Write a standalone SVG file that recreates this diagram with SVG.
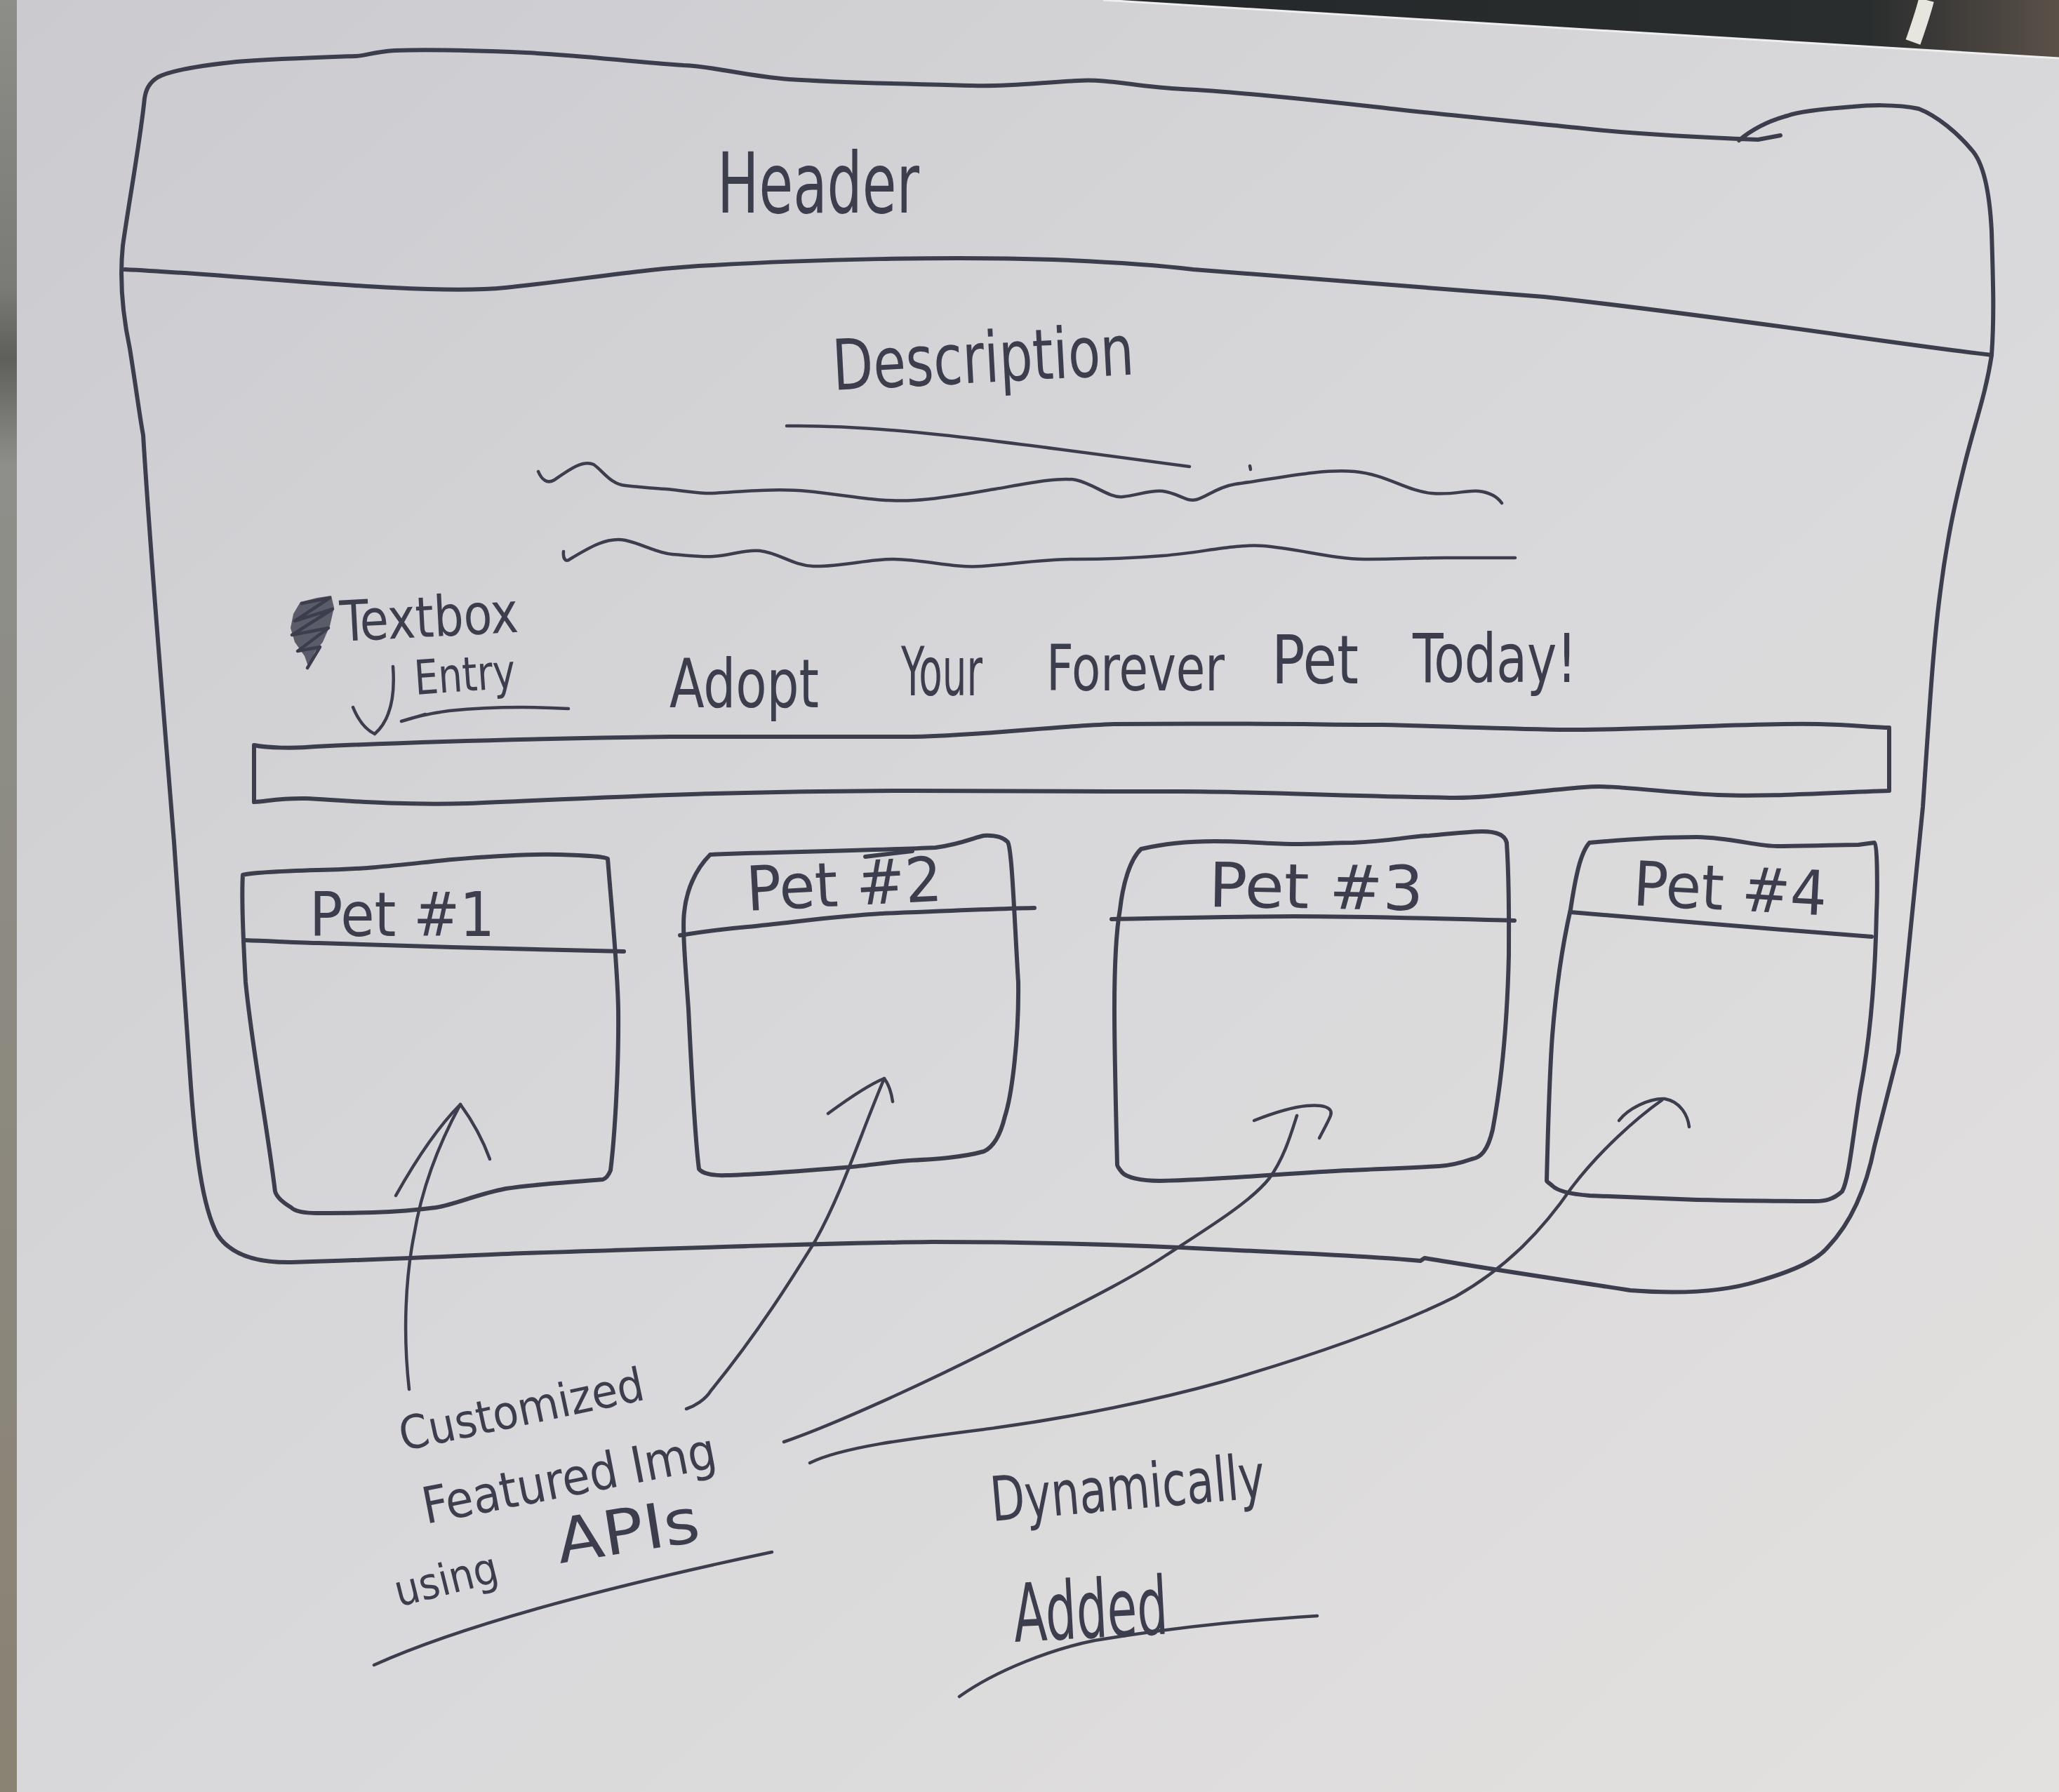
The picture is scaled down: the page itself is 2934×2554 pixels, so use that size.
<svg xmlns="http://www.w3.org/2000/svg" width="2934" height="2554" viewBox="0 0 2934 2554">
  <defs>
    <linearGradient id="paper" x1="0" y1="0" x2="1" y2="1">
      <stop offset="0" stop-color="#cbcbcf"/>
      <stop offset="0.45" stop-color="#d7d6d9"/>
      <stop offset="1" stop-color="#e3e1df"/>
    </linearGradient>
    <linearGradient id="desk" x1="0" y1="0" x2="1" y2="0">
      <stop offset="0" stop-color="#24282a"/>
      <stop offset="0.8" stop-color="#2a2d2e"/>
      <stop offset="1" stop-color="#5a5048"/>
    </linearGradient>
    <linearGradient id="edge" x1="0" y1="0" x2="0" y2="1">
      <stop offset="0" stop-color="#8d8e88"/>
      <stop offset="0.16" stop-color="#7a7b76"/>
      <stop offset="0.2" stop-color="#5e5f5b"/>
      <stop offset="0.26" stop-color="#8e8f8a"/>
      <stop offset="1" stop-color="#8a8273"/>
    </linearGradient>
    <style>
      .ink { fill: none; stroke: #3c3e4d; stroke-width: 6; stroke-linecap: round; stroke-linejoin: round; }
      .fine { stroke-width: 4.5; }
      .hand { font-family: "DejaVu Sans Condensed", "Liberation Sans Narrow", "Liberation Sans", sans-serif; fill: #3c3e4d; }
    </style>
  </defs>

  <!-- sheet of paper on the desk -->
  <rect x="0" y="0" width="2934" height="2554" fill="url(#paper)"/>
  <path d="M1572,0 L2934,0 L2934,83 Z" fill="url(#desk)"/>
  <path d="M1572,0 L2934,83" stroke="#eeeeee" stroke-width="3" fill="none"/>
  <path d="M2745,0 C2740,20 2733,40 2726,60" stroke="#e6e6de" stroke-width="22" fill="none"/>
  <rect x="0" y="0" width="24" height="2554" fill="url(#edge)"/>

  <!-- page outline, header band and body -->
  <g id="page">
    <path class="ink" d="M2537,193 L2505,199 C2400,195 2300,188 2247,182 C2150,172 2050,163 1966,153 C1850,140 1750,130 1685,127 C1620,124 1580,112 1536,115 C1480,118 1430,124 1386,122 C1300,120 1200,118 1124,113 C1060,108 1020,95 974,93 C900,88 820,78 749,75 C680,72 620,70 562,72 C530,74 520,80 506,80 C450,82 390,84 337,88 C280,94 240,102 225,110 C212,118 208,128 206,140 C200,200 185,280 175,350 C170,400 175,450 185,497 C195,560 200,600 204,620 C215,800 232,1000 248,1200 C258,1350 265,1450 270,1520 C278,1640 288,1720 310,1760 C330,1790 370,1800 416,1799 C550,1795 650,1790 747,1786 C950,1780 1150,1772 1328,1770 C1500,1770 1650,1776 1743,1781 C1850,1786 1950,1790 2024,1797 L2030,1793 C2100,1805 2200,1820 2323,1839 C2400,1845 2460,1840 2505,1826 C2560,1810 2590,1795 2605,1777 C2640,1740 2660,1690 2671,1634 C2690,1560 2700,1520 2705,1500 C2720,1350 2730,1250 2740,1150 C2750,1000 2755,920 2764,850 C2775,760 2790,700 2800,660 C2815,600 2830,560 2838,506 C2842,450 2840,400 2838,330 C2835,270 2825,230 2809,213 C2790,190 2760,165 2734,155 C2700,148 2660,150 2640,152 C2600,155 2560,160 2547,165 C2510,175 2490,190 2478,200"/>
    <path class="ink" d="M178,384 C300,390 450,405 560,410 C640,414 690,413 720,410 C820,400 920,382 1016,378 C1150,370 1350,365 1500,370 C1600,374 1650,378 1700,384 C1900,400 2100,415 2200,423 C2450,450 2700,490 2838,506"/>
    <text class="hand" x="1022" y="303" font-size="120" textLength="288" lengthAdjust="spacingAndGlyphs">Header</text>
  </g>

  <!-- description block -->
  <g id="description">
    <text class="hand" x="1188" y="556" font-size="100" textLength="430" lengthAdjust="spacingAndGlyphs" transform="rotate(-3 1188 556)">Description</text>
    <path class="ink fine" d="M1121,607 C1250,605 1400,625 1695,665"/>
    <path class="ink fine" d="M767,672 C772,684 780,690 790,684 C810,670 830,655 846,662 C860,672 870,690 891,692 C910,694 930,696 949,697 C980,700 1000,704 1016,703 C1060,700 1110,696 1150,700 C1210,706 1250,716 1303,713 C1350,710 1380,703 1418,697 C1470,688 1510,680 1533,684 C1560,690 1580,710 1600,708 C1620,706 1640,698 1657,700 C1680,703 1690,716 1705,712 C1720,708 1735,694 1760,690 C1820,682 1880,668 1930,672 C1975,676 2005,700 2040,703 C2070,706 2090,698 2107,700 C2125,702 2135,710 2140,717"/>
    <path class="ink fine" d="M1781,664 L1782,669"/>
    <path class="ink fine" d="M803,786 C802,796 806,802 812,797 C840,780 865,765 891,770 C915,775 935,788 958,790 C985,792 1000,794 1016,793 C1040,792 1060,783 1083,785 C1110,788 1130,806 1159,807 C1200,808 1240,796 1274,797 C1320,798 1360,810 1399,807 C1450,803 1490,797 1533,797 C1580,797 1620,795 1657,792 C1710,788 1760,775 1800,778 C1850,782 1900,797 1944,797 C1990,797 2030,795 2059,795 C2100,795 2130,795 2159,795"/>
  </g>

  <!-- search text box with its note -->
  <g id="textbox">
    <path d="M428,858 L452,852 L472,849 L476,866 L470,892 L460,915 L448,930 L440,952 L434,935 L420,915 L414,895 L418,875 Z" fill="#3c3e4d" fill-opacity="0.8"/>
    <path class="ink fine" d="M430,860 L470,852 L420,885 L474,868 L416,905 L468,895 L424,928 L456,922 L438,952"/>
    <text class="hand" x="486" y="914" font-size="80" textLength="254" lengthAdjust="spacingAndGlyphs" transform="rotate(-3 486 914)">Textbox</text>
    <text class="hand" x="592" y="990" font-size="68" textLength="144" lengthAdjust="spacingAndGlyphs" transform="rotate(-4 592 990)">Entry</text>
    <path class="ink fine" d="M560,950 C563,990 558,1025 534,1046 M503,1008 C510,1025 521,1040 534,1046"/>
    <path class="ink fine" d="M810,1010 C760,1007 700,1007 640,1013 C610,1017 590,1022 572,1028 L606,1018"/>
    <text class="hand" x="954" y="1008" font-size="96" textLength="213" lengthAdjust="spacingAndGlyphs">Adopt</text>
    <text class="hand" x="1284" y="991" font-size="96" textLength="116" lengthAdjust="spacingAndGlyphs">Your</text>
    <text class="hand" x="1491" y="984" font-size="90" textLength="254" lengthAdjust="spacingAndGlyphs">Forever</text>
    <text class="hand" x="1812" y="974" font-size="96" textLength="124" lengthAdjust="spacingAndGlyphs">Pet</text>
    <text class="hand" x="2013" y="972" font-size="96" textLength="234" lengthAdjust="spacingAndGlyphs">Today!</text>
    <path class="ink" d="M362,1062 C380,1066 420,1067 450,1064 C600,1057 800,1052 954,1050 C1100,1049 1250,1050 1300,1050 C1400,1048 1500,1035 1587,1032 C1750,1030 1900,1033 1970,1033 C2100,1036 2200,1041 2257,1040 C2400,1038 2500,1030 2592,1032 C2640,1033 2670,1037 2692,1037 L2692,1127 C2600,1130 2520,1136 2448,1133 C2350,1128 2300,1118 2257,1122 C2180,1128 2120,1138 2066,1137 C1900,1134 1780,1128 1683,1128 C1550,1128 1400,1128 1300,1127 C1000,1127 800,1140 667,1145 C560,1148 480,1140 437,1138 C400,1137 380,1142 362,1143 Z"/>
  </g>

  <!-- pet cards -->
  <g id="pet-1">
    <path class="ink" d="M346,1247 C360,1243 420,1241 453,1240 C530,1239 590,1230 644,1225 C700,1220 760,1217 797,1218 C830,1219 860,1220 866,1224 C872,1300 880,1380 881,1438 C882,1520 876,1620 870,1668 C866,1678 862,1680 859,1681 C800,1686 760,1688 721,1694 C680,1702 650,1716 621,1721 C560,1729 500,1729 453,1729 C430,1729 420,1726 415,1721 C400,1712 394,1705 392,1698 C380,1600 360,1500 350,1400 C346,1330 344,1280 346,1247 Z"/>
    <path class="ink" d="M350,1340 C400,1342 440,1344 453,1344 C550,1347 600,1349 644,1350 C750,1352 830,1355 889,1356"/>
    <text class="hand" x="441" y="1334" font-size="88" textLength="264" lengthAdjust="spacingAndGlyphs">Pet #1</text>
  </g>
  <g id="pet-2">
    <path class="ink" d="M1012,1218 C1060,1216 1100,1215 1142,1214 C1220,1212 1290,1210 1333,1208 C1370,1203 1390,1193 1402,1191 C1420,1190 1430,1194 1436,1200 C1442,1210 1445,1300 1451,1400 C1452,1480 1442,1560 1432,1591 C1425,1620 1415,1635 1402,1641 C1370,1650 1330,1652 1295,1654 C1260,1657 1230,1662 1203,1664 C1140,1669 1080,1674 1035,1675 C1015,1676 1000,1672 996,1666 C990,1620 985,1520 981,1438 C977,1380 972,1323 975,1300 C978,1270 990,1240 1012,1218 Z"/>
    <path class="ink" d="M1233,1221 L1300,1213"/>
    <path class="ink" d="M969,1333 C1000,1328 1030,1324 1065,1321 C1150,1312 1200,1305 1256,1302 C1350,1298 1420,1295 1474,1294"/>
    <text class="hand" x="1065" y="1298" font-size="88" textLength="279" lengthAdjust="spacingAndGlyphs" transform="rotate(-3 1065 1298)">Pet #2</text>
  </g>
  <g id="pet-3">
    <path class="ink" d="M1626,1210 C1660,1202 1700,1199 1730,1199 C1780,1199 1810,1203 1844,1203 C1880,1203 1900,1201 1928,1201 C1980,1199 2000,1193 2036,1191 C2070,1188 2095,1185 2112,1185 C2135,1185 2145,1192 2147,1201 C2151,1260 2150,1310 2150,1361 C2148,1450 2140,1540 2127,1610 C2120,1640 2110,1650 2097,1652 C2080,1658 2065,1661 2051,1662 C2000,1665 1960,1666 1921,1668 C1880,1670 1840,1673 1806,1675 C1750,1679 1700,1682 1653,1683 C1625,1683 1605,1678 1599,1671 C1594,1665 1592,1662 1592,1660 C1590,1580 1588,1500 1588,1438 C1588,1380 1590,1330 1596,1296 C1600,1260 1610,1225 1626,1210 Z"/>
    <path class="ink" d="M1584,1310 C1700,1308 1780,1306 1844,1306 C1950,1306 2080,1310 2158,1312"/>
    <text class="hand" x="1722" y="1292" font-size="88" textLength="306" lengthAdjust="spacingAndGlyphs" transform="rotate(1 1722 1292)">Pet #3</text>
  </g>
  <g id="pet-4">
    <path class="ink" d="M2265,1201 C2320,1196 2370,1193 2418,1193 C2470,1194 2500,1206 2533,1206 C2580,1206 2620,1204 2648,1204 C2660,1203 2668,1201 2671,1201 C2676,1205 2675,1280 2674,1300 C2672,1400 2665,1480 2651,1553 C2640,1620 2635,1680 2625,1698 C2612,1710 2600,1712 2586,1712 C2530,1712 2470,1711 2418,1710 C2360,1708 2310,1706 2265,1704 C2240,1702 2220,1698 2212,1690 C2206,1685 2204,1684 2204,1683 C2206,1600 2208,1530 2212,1476 C2218,1400 2228,1340 2238,1296 C2245,1250 2252,1215 2265,1201 Z"/>
    <path class="ink" d="M2238,1300 C2300,1305 2360,1310 2418,1315 C2500,1322 2600,1330 2667,1335"/>
    <text class="hand" x="2326" y="1290" font-size="88" textLength="276" lengthAdjust="spacingAndGlyphs" transform="rotate(3 2326 1290)">Pet #4</text>
  </g>

  <!-- notes under the page -->
  <g id="notes">
    <text class="hand" x="574" y="2068" font-size="66" textLength="355" lengthAdjust="spacingAndGlyphs" transform="rotate(-12 574 2068)">Customized</text>
    <text class="hand" x="607" y="2172" font-size="72" textLength="425" lengthAdjust="spacingAndGlyphs" transform="rotate(-11 607 2172)">Featured Img</text>
    <text class="hand" x="568" y="2290" font-size="62" textLength="150" lengthAdjust="spacingAndGlyphs" transform="rotate(-14 568 2290)">using</text>
    <text class="hand" x="798" y="2228" font-size="88" textLength="205" lengthAdjust="spacingAndGlyphs" transform="rotate(-9 798 2228)">APIs</text>
    <path class="ink fine" d="M533,2373 C650,2320 850,2265 1100,2212"/>
    <text class="hand" x="1414" y="2168" font-size="88" textLength="392" lengthAdjust="spacingAndGlyphs" transform="rotate(-5 1414 2168)">Dynamically</text>
    <text class="hand" x="1446" y="2340" font-size="115" textLength="220" lengthAdjust="spacingAndGlyphs" transform="rotate(-3 1446 2340)">Added</text>
    <path class="ink fine" d="M1367,2418 C1420,2380 1500,2350 1560,2338 C1700,2315 1800,2308 1877,2303"/>
  </g>

  <!-- arrows from the note to each card image -->
  <g id="connectors">
    <path class="ink fine" d="M583,1980 C574,1900 578,1820 590,1760 C600,1700 620,1640 656,1574"/>
    <path class="ink fine" d="M564,1704 C600,1640 630,1600 656,1574 C675,1600 690,1630 698,1652"/>
    <path class="ink fine" d="M978,2008 C990,2004 1005,1995 1013,1982 C1080,1900 1130,1820 1162,1768 C1200,1700 1225,1620 1260,1537"/>
    <path class="ink fine" d="M1180,1587 C1210,1565 1240,1545 1260,1537 C1266,1545 1270,1556 1272,1570"/>
    <path class="ink fine" d="M1117,2055 C1190,2030 1320,1970 1411,1924 C1510,1872 1600,1830 1660,1790 C1730,1745 1785,1710 1809,1679 C1830,1650 1840,1615 1848,1590"/>
    <path class="ink fine" d="M1787,1597 C1810,1588 1840,1578 1862,1576 C1885,1574 1900,1578 1896,1590 C1892,1600 1885,1612 1880,1622"/>
    <path class="ink fine" d="M1154,2085 C1200,2062 1300,2050 1411,2036 C1530,2020 1650,1995 1743,1969 C1870,1932 1990,1890 2074,1848 C2150,1805 2200,1750 2240,1692 C2280,1640 2330,1595 2368,1568"/>
    <path class="ink fine" d="M2307,1597 C2320,1580 2350,1565 2372,1566 C2395,1570 2405,1590 2407,1606"/>
  </g>
</svg>
